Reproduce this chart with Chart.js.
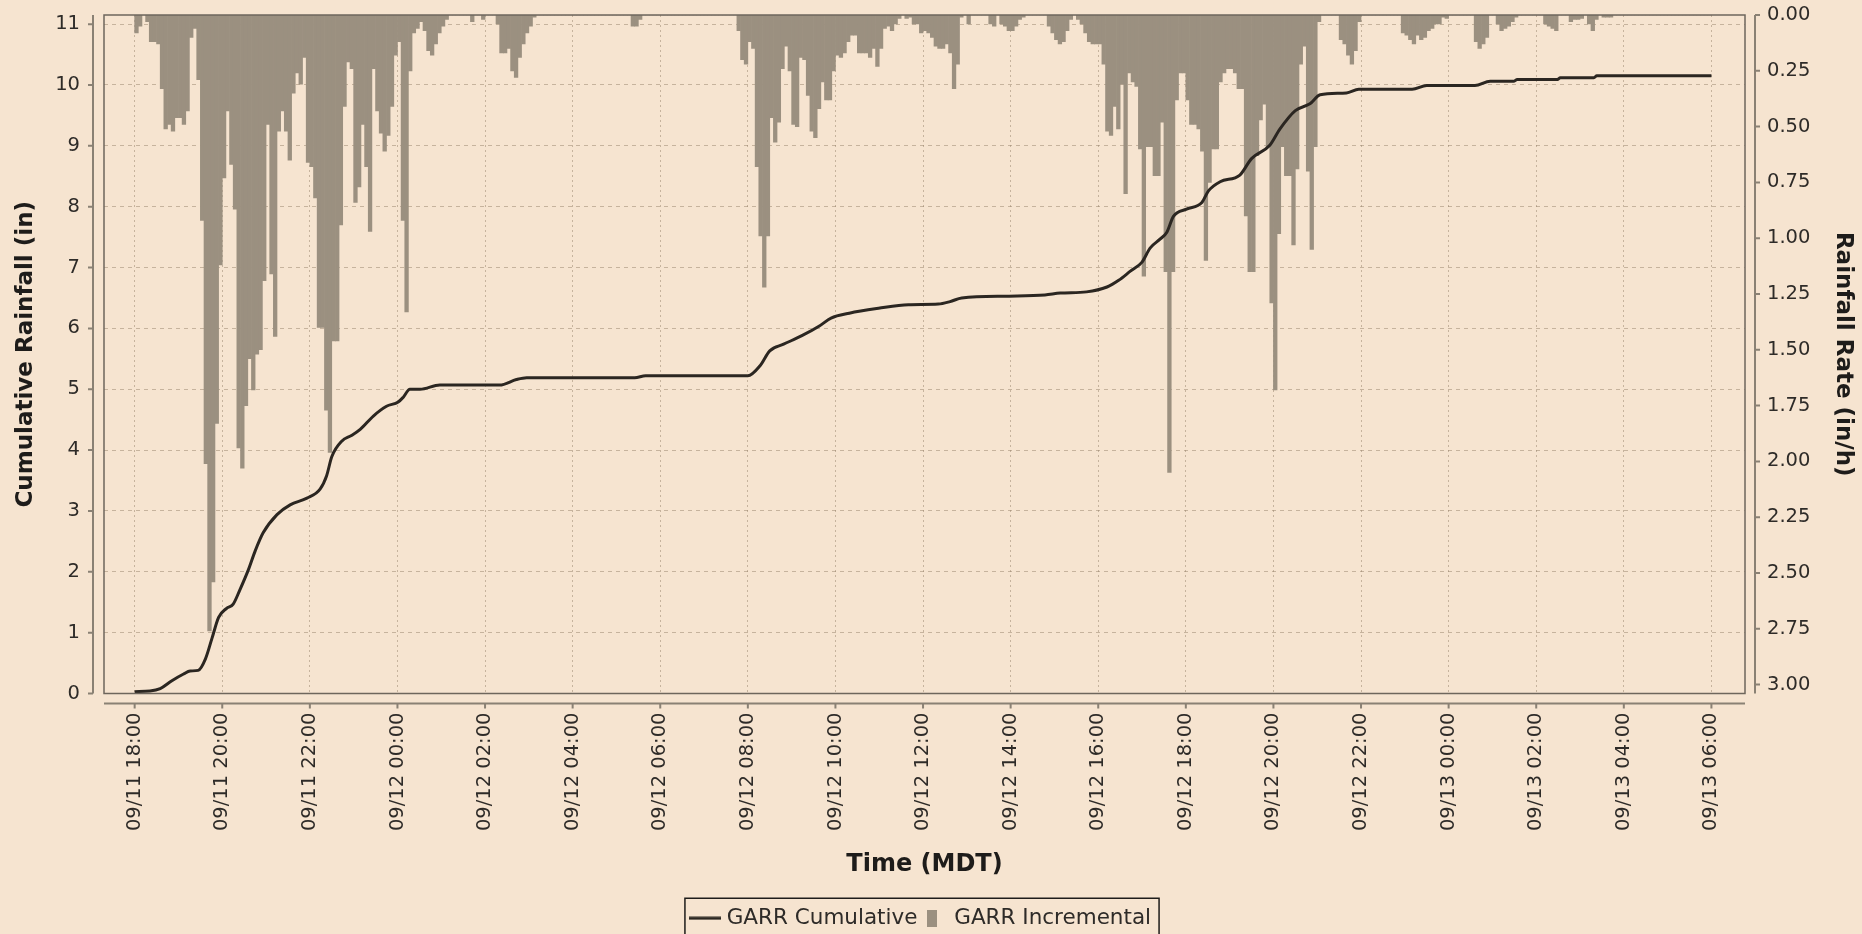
<!DOCTYPE html>
<html>
<head>
<meta charset="utf-8">
<title>GARR Rainfall</title>
<script src="https://cdn.jsdelivr.net/npm/chart.js@4.4.1/dist/chart.umd.min.js"></script>
<style>
  html, body { margin: 0; padding: 0; background: #f6e4d0; }
  #wrap { width: 1862px; height: 934px; }
</style>
</head>
<body>
<div id="wrap"><canvas id="rainChart"></canvas></div>
<script>
// 5-minute rainfall rate (in/h) starting 09/11 18:00 MDT, one row per hour
const rateStepMinutes = 5;
const rateValues = [
  0.08, 0.05, 0, 0.03, 0.12, 0.12, 0.13, 0.33, 0.51, 0.49, 0.52, 0.46,   // 09/11 18
  0.46, 0.49, 0.43, 0.10, 0.06, 0.29, 0.92, 2.01, 2.76, 2.54, 1.83, 1.12, // 19
  0.73, 0.43, 0.67, 0.87, 1.94, 2.03, 1.75, 1.54, 1.68, 1.52, 1.50, 1.19, // 20
  0.49, 1.16, 1.44, 0.52, 0.43, 0.52, 0.65, 0.35, 0.26, 0.31, 0.19, 0.66, // 21
  0.68, 0.82, 1.40, 1.40, 1.77, 1.96, 1.46, 1.46, 0.94, 0.41, 0.21, 0.24, // 22
  0.84, 0.77, 0.49, 0.68, 0.97, 0.24, 0.43, 0.53, 0.61, 0.54, 0.41, 0.18, // 23
  0.12, 0.92, 1.33, 0.25, 0.08, 0.06, 0.03, 0.07, 0.16, 0.18, 0.13, 0.08, // 09/12 00
  0.05, 0.02, 0, 0, 0, 0, 0, 0, 0.03, 0, 0, 0.02,                         // 01
  0, 0, 0, 0.04, 0.17, 0.17, 0.15, 0.25, 0.28, 0.19, 0.13, 0.08,          // 02
  0.05, 0.01, 0, 0, 0, 0, 0, 0, 0, 0, 0, 0,                               // 03
  0, 0, 0, 0, 0, 0, 0, 0, 0, 0, 0, 0,                                     // 04
  0, 0, 0, 0, 0.05, 0.05, 0.02, 0, 0, 0, 0, 0,                            // 05
  0, 0, 0, 0, 0, 0, 0, 0, 0, 0, 0, 0,                                     // 06
  0, 0, 0, 0, 0, 0, 0, 0, 0, 0.07, 0.20, 0.22,                            // 07
  0.12, 0.15, 0.68, 0.99, 1.22, 0.99, 0.46, 0.57, 0.48, 0.24, 0.14, 0.25, // 08
  0.49, 0.50, 0.19, 0.20, 0.36, 0.52, 0.55, 0.42, 0.30, 0.38, 0.38, 0.25, // 09
  0.18, 0.19, 0.17, 0.12, 0.09, 0.09, 0.17, 0.17, 0.17, 0.19, 0.15, 0.23, // 10
  0.15, 0.06, 0.05, 0.07, 0.04, 0.015, 0, 0.015, 0.01, 0.04, 0.04, 0.08,  // 11
  0.07, 0.08, 0.10, 0.14, 0.15, 0.15, 0.13, 0.17, 0.33, 0.22, 0.01, 0,    // 12
  0.04, 0, 0, 0, 0, 0, 0.04, 0.05, 0, 0.04, 0.05, 0.07,                   // 13
  0.07, 0.05, 0.02, 0.01, 0, 0, 0, 0, 0, 0, 0.05, 0.08,                   // 14
  0.11, 0.13, 0.12, 0.07, 0.02, 0, 0.02, 0.04, 0.08, 0.12, 0.13, 0.13,    // 15
  0.13, 0.22, 0.52, 0.54, 0.41, 0.51, 0.31, 0.80, 0.26, 0.30, 0.32, 0.60, // 16
  1.17, 0.59, 0.59, 0.72, 0.72, 0.48, 1.15, 2.05, 1.15, 0.38, 0.26, 0.26, // 17
  0.38, 0.49, 0.49, 0.51, 0.61, 1.10, 0.75, 0.60, 0.60, 0.30, 0.26, 0.24, // 18
  0.24, 0.26, 0.33, 0.33, 0.90, 1.15, 1.15, 0.63, 0.47, 0.40, 0.59, 1.29, // 19
  1.68, 0.98, 0.59, 0.72, 0.72, 1.03, 0.69, 0.22, 0.14, 0.70, 1.05, 0.59, // 20
  0.03, 0, 0, 0, 0, 0, 0.11, 0.13, 0.18, 0.22, 0.16, 0.03,                // 21
  0, 0, 0, 0, 0, 0, 0, 0, 0, 0, 0, 0.08,                                  // 22
  0.09, 0.11, 0.13, 0.09, 0.11, 0.10, 0.07, 0.06, 0.04, 0.04, 0.01, 0.015,// 23
  0, 0, 0, 0, 0, 0, 0, 0.12, 0.15, 0.13, 0.10, 0,                         // 09/13 00
  0, 0.04, 0.07, 0.06, 0.05, 0.03, 0.01, 0, 0, 0, 0, 0,                   // 01
  0, 0, 0.04, 0.05, 0.06, 0.07, 0, 0, 0, 0.03, 0.02, 0.02,                // 02
  0.015, 0, 0.04, 0.07, 0.02, 0, 0.01, 0.01, 0.01, 0, 0, 0,               // 03
  0, 0, 0, 0, 0, 0, 0, 0, 0, 0, 0, 0,                                     // 04
  0, 0, 0, 0, 0, 0, 0, 0, 0, 0, 0, 0,                                     // 05
];

// cumulative rainfall (in); minutes after 09/11 18:00
const cumMinutes = [
  0, 21, 35, 51, 67, 76, 87, 97, 106, 115, 126, 135, 144, 156, 165, 176, 195, 213,
  236, 254, 263, 270, 284, 297, 309, 327, 345, 361, 368, 377, 391, 418, 500, 523,
  537, 685, 700, 840, 857, 870, 889, 914, 938, 954, 979, 1019, 1060, 1101, 1117,
  1133, 1198, 1247, 1268, 1304, 1332, 1348, 1364, 1380, 1391, 1405, 1414, 1423,
  1441, 1462, 1471, 1487, 1514, 1530, 1555, 1569, 1590, 1610, 1624, 1660, 1677,
  1750, 1770, 1836, 1857, 1889, 1894, 1949, 1953, 1999, 2003, 2160
];
const cumValues = [
  0.03, 0.04, 0.08, 0.21, 0.32, 0.37, 0.38, 0.57, 0.91, 1.25, 1.40, 1.47, 1.70, 2.04, 2.34, 2.64, 2.94, 3.10,
  3.21, 3.36, 3.58, 3.89, 4.15, 4.24, 4.34, 4.56, 4.72, 4.79, 4.87, 5.00, 5.00, 5.07, 5.07, 5.16,
  5.19, 5.19, 5.22, 5.22, 5.39, 5.63, 5.74, 5.88, 6.04, 6.17, 6.25, 6.33, 6.39, 6.40, 6.44,
  6.50, 6.53, 6.55, 6.58, 6.60, 6.68, 6.79, 6.94, 7.09, 7.32, 7.47, 7.58, 7.84,
  7.96, 8.07, 8.26, 8.41, 8.52, 8.79, 9.01, 9.28, 9.58, 9.69, 9.84, 9.87, 9.93,
  9.93, 9.99, 9.99, 10.06, 10.06, 10.09, 10.09, 10.12, 10.12, 10.15, 10.15
];

// axis settings
const startMonth = '09';
const startDay = 11;
const startHour = 18;
const timeMin = -42, timeMax = 2206, timeStep = 120;
const cumMax = 11.15;
const rateMax = 3.04;

const bg = '#f6e4d0';
const barColor = '#9b9080';
const lineColor = '#2b2621';
const textColor = '#2e2b28';
const gridColor = 'rgba(150,130,105,0.5)';
const font = 'DejaVu Sans';
const plotBottom = 693.5;
const bottomPad = -5;   // legend box runs off the lower edge, as in the original

function timeLabel(t) {
  const total = startHour * 60 + t;
  const day = startDay + Math.floor(total / 1440);
  const mins = ((total % 1440) + 1440) % 1440;
  const hh = String(Math.floor(mins / 60)).padStart(2, '0');
  const mm = String(mins % 60).padStart(2, '0');
  return startMonth + '/' + String(day).padStart(2, '0') + ' ' + hh + ':' + mm;
}

const barData = rateValues.map((v, i) => ({ x: i * rateStepMinutes + rateStepMinutes / 2, y: v }));
const lineData = cumMinutes.map((t, i) => ({ x: t, y: cumValues[i] }));

// legend icons
const lineIcon = document.createElement('canvas');
lineIcon.width = 32; lineIcon.height = 4;
(function () { const c = lineIcon.getContext('2d'); c.fillStyle = lineColor; c.fillRect(0, 0.5, 32, 3); })();
const barIcon = document.createElement('canvas');
barIcon.width = 10; barIcon.height = 17;
(function () { const c = barIcon.getContext('2d'); c.fillStyle = barColor; c.fillRect(0, 0, 10, 17); })();

// y axes keep a fixed width and do not push the plot down for their labels
function fixY(width) {
  return function (scale) {
    scale.width = width;
    scale.paddingTop = 0;
    scale.paddingBottom = 0;
  };
}

const framePlugin = {
  id: 'frame',
  beforeDraw(chart) {
    const ctx = chart.ctx;
    ctx.save();
    ctx.fillStyle = bg;
    ctx.fillRect(0, 0, chart.width, chart.height);
    ctx.restore();
  },
  afterDraw(chart) {
    const { ctx, chartArea: a } = chart;
    const sx = chart.scales.x, sy = chart.scales.y, sy1 = chart.scales.y1;
    ctx.save();
    ctx.strokeStyle = '#6e665c';
    ctx.lineWidth = 1.5;
    ctx.strokeRect(a.left, a.top, a.right - a.left, a.bottom - a.top);

    ctx.strokeStyle = '#8a8174';
    ctx.lineWidth = 2;
    ctx.beginPath();
    const lx = a.left - 11;
    ctx.moveTo(lx, a.top); ctx.lineTo(lx, a.bottom);
    sy.ticks.forEach((t, i) => { const p = sy.getPixelForTick(i); ctx.moveTo(lx - 5, p); ctx.lineTo(lx, p); });
    const rx = a.right + 10;
    ctx.moveTo(rx, a.top); ctx.lineTo(rx, a.bottom);
    sy1.ticks.forEach((t, i) => { const p = sy1.getPixelForTick(i); ctx.moveTo(rx, p); ctx.lineTo(rx + 5, p); });
    const by = a.bottom + 10;
    ctx.moveTo(a.left, by); ctx.lineTo(a.right, by);
    sx.ticks.forEach((t, i) => { const p = sx.getPixelForTick(i); ctx.moveTo(p, by); ctx.lineTo(p, by + 5); });
    ctx.stroke();

    // border round the legend
    const boxes = chart.legend.legendHitBoxes;
    if (boxes && boxes.length) {
      const first = boxes[0], last = boxes[boxes.length - 1];
      const cy = first.top + first.height / 2;
      ctx.strokeStyle = '#1e1c1a';
      ctx.lineWidth = 1.5;
      ctx.strokeRect(first.left - 9, cy - 20, last.left + last.width - first.left + 17, 60);
    }
    ctx.restore();
  }
};

const data = {
  datasets: [{
    type: 'line',
    label: 'GARR Cumulative',
    data: lineData,
    yAxisID: 'y',
    borderColor: lineColor,
    borderWidth: 3,
    pointRadius: 0,
    cubicInterpolationMode: 'monotone',
    order: 0,
  }, {
    type: 'bar',
    label: 'GARR Incremental',
    data: barData,
    yAxisID: 'y1',
    backgroundColor: barColor,
    borderWidth: 0,
    barPercentage: 1.0,
    categoryPercentage: 1.0,
    order: 1,
  }]
};

const config = {
  type: 'bar',
  data: data,
  plugins: [framePlugin],
  options: {
    responsive: true,
    maintainAspectRatio: false,
    animation: false,
    layout: { padding: { top: 15, right: 17, bottom: bottomPad, left: 0 } },
    plugins: {
      tooltip: { enabled: false },
      legend: {
        position: 'bottom',
        labels: {
          usePointStyle: true,
          pointStyleWidth: 22,
          padding: 4,
          color: textColor,
          font: { family: font, size: 21.5 },
          generateLabels(chart) {
            return chart.data.datasets.map((ds, i) => ({
              text: ds.label,
              pointStyle: i === 0 ? lineIcon : barIcon,
              fillStyle: i === 0 ? lineColor : barColor,
              strokeStyle: i === 0 ? lineColor : barColor,
              lineWidth: 0,
              fontColor: textColor,
              hidden: false,
              datasetIndex: i,
            }));
          }
        }
      }
    },
    scales: {
      x: {
        type: 'linear',
        min: timeMin,
        max: timeMax,
        offset: false,
        afterFit(scale) {
          scale.height = scale.chart.height - bottomPad - plotBottom - scale.chart.legend.height;
        },
        grid: { color: gridColor, lineWidth: 1, drawTicks: false, offset: false },
        border: { display: false, dash: [2, 3] },
        ticks: {
          stepSize: timeStep,
          includeBounds: false,
          autoSkip: false,
          minRotation: 90,
          maxRotation: 90,
          padding: 19,
          color: textColor,
          font: { family: font, size: 19.5 },
          callback: (v) => timeLabel(v),
        },
        title: {
          display: true,
          text: 'Time (MDT)',
          color: '#1e1c1a',
          font: { family: font, size: 24, weight: 'bold' },
          padding: { top: 0, bottom: 24 },
        }
      },
      y: {
        position: 'left',
        min: 0,
        max: cumMax,
        afterFit: fixY(104),
        grid: { color: gridColor, lineWidth: 1, drawTicks: false },
        border: { display: false, dash: [4, 4] },
        ticks: {
          stepSize: 1,
          includeBounds: false,
          padding: 24,
          color: textColor,
          font: { family: font, size: 19.5 },
        },
        title: {
          display: true,
          text: 'Cumulative Rainfall (in)',
          color: '#1e1c1a',
          font: { family: font, size: 23, weight: 'bold' },
          padding: { top: 12, bottom: 0 },
        }
      },
      y1: {
        position: 'right',
        reverse: true,
        min: 0,
        max: rateMax,
        afterFit: fixY(100),
        grid: { display: false, drawTicks: false },
        border: { display: false },
        ticks: {
          stepSize: 0.25,
          includeBounds: false,
          padding: 22,
          color: textColor,
          font: { family: font, size: 19.5 },
          callback: (v) => v.toFixed(2),
        },
        title: {
          display: true,
          text: 'Rainfall Rate (in/h)',
          color: '#1e1c1a',
          font: { family: font, size: 23, weight: 'bold' },
          padding: { top: -12, bottom: 0 },
        }
      }
    }
  }
};

const rainChart = new Chart(document.getElementById('rainChart'), config);
</script>
</body>
</html>
